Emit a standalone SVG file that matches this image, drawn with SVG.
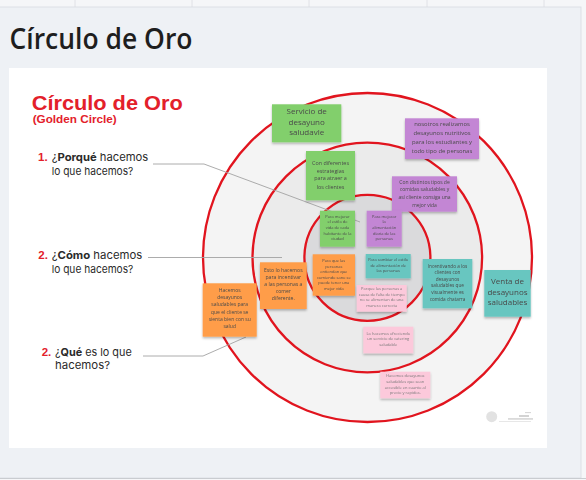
<svg xmlns="http://www.w3.org/2000/svg" width="586" height="480" viewBox="0 0 586 480">
<defs>
<filter id="sh" x="-20%" y="-20%" width="140%" height="150%">
<feDropShadow dx="0" dy="1.6" stdDeviation="1.2" flood-color="#000" flood-opacity="0.28"/>
</filter>
</defs>
<style>
.ring{stroke:#e1141e;stroke-width:2.3}
.conn{fill:none;stroke:#a3a3a3;stroke-width:0.9}
.note{filter:url(#sh)}
.nt{font-family:"Open Sans","Liberation Sans",sans-serif;text-anchor:middle;fill:#4a4a4a}
.pk{fill:#777}
.q{font-family:"Inter","Liberation Sans",sans-serif;font-size:11px;fill:#2a2a2a}
.num{font-family:"Liberation Sans",sans-serif;font-weight:bold;fill:#e3202a;font-size:11.5px}
.g{fill:#82cf6c}.p{fill:#c386d4}.o{fill:#ff9d48}.t{fill:#67c6c0}.k{fill:#fcc9db}
</style>
<rect x="0" y="0" width="586" height="480" fill="#f5f6f8"/>
<g stroke="#dadde1" stroke-width="0.8"><line x1="75" y1="0" x2="75" y2="7"/><line x1="192" y1="0" x2="192" y2="7"/><line x1="309" y1="0" x2="309" y2="7"/><line x1="427" y1="0" x2="427" y2="7"/><line x1="544" y1="0" x2="544" y2="7"/></g>
<rect x="-1" y="7" width="582" height="471" fill="#eef1f5" stroke="#d8dbe0" stroke-width="0.8"/>
<line x1="0" y1="478.5" x2="586" y2="478.5" stroke="#c9ccd0" stroke-width="1"/>
<text x="9.5" y="49" font-family="Open Sans,Liberation Sans,sans-serif" font-weight="600" font-size="28" fill="#1e1e1e" textLength="183" lengthAdjust="spacingAndGlyphs">Círculo de Oro</text>
<rect x="9" y="68" width="538" height="380" fill="#ffffff"/>

<g id="title">
<text x="31.7" y="109.5" font-family="Liberation Sans,sans-serif" font-weight="bold" font-size="20" fill="#e3202a" textLength="151" lengthAdjust="spacingAndGlyphs">Círculo de Oro</text>
<text x="32.7" y="122.8" font-family="Liberation Sans,sans-serif" font-weight="bold" font-size="10" fill="#e3202a" textLength="84" lengthAdjust="spacingAndGlyphs">(Golden Circle)</text>
</g>

<g id="q1">
<text class="num" x="38" y="161">1.</text>
<text class="q" x="51.7" y="161" textLength="96.6" lengthAdjust="spacingAndGlyphs">¿<tspan font-weight="bold">Porqué</tspan> hacemos</text>
<text class="q" x="51.7" y="174.5" textLength="81.6" lengthAdjust="spacingAndGlyphs">lo que hacemos?</text>
</g>
<g id="q2">
<text class="num" x="38.3" y="259.3">2.</text>
<text class="q" x="51.7" y="259.3" textLength="90.6" lengthAdjust="spacingAndGlyphs">¿<tspan font-weight="bold">Cómo</tspan> hacemos</text>
<text class="q" x="51.7" y="272.5" textLength="81.6" lengthAdjust="spacingAndGlyphs">lo que hacemos?</text>
</g>
<g id="q3">
<text class="num" x="41.7" y="356">2.</text>
<text class="q" x="55" y="356" textLength="76.7" lengthAdjust="spacingAndGlyphs">¿<tspan font-weight="bold">Qué</tspan> es lo que</text>
<text class="q" x="55" y="368.5" textLength="55" lengthAdjust="spacingAndGlyphs">hacemos?</text>
</g>

<g id="circles">
<circle class="ring" cx="367.5" cy="257.5" r="164.5" fill="#f4f4f4"/>
<circle class="ring" cx="367.3" cy="257.5" r="114.8" fill="#ebebeb"/>
<circle class="ring" cx="367.4" cy="257.8" r="63" fill="#dadadc"/>
</g>

<g id="connectors">
<polyline class="conn" points="153,164 204,164 360,222"/>
<polyline class="conn" points="148,257.5 282,257.5"/>
<polyline class="conn" points="143,356 203,356 246,337"/>
</g>

<g id="n1" class="note"><rect class="g" x="272" y="104.3" width="69.3" height="38"/>
<text class="nt" font-size="8" x="306.7"><tspan x="306.7" y="114">Servicio de</tspan><tspan x="306.7" y="124.7">desayuno</tspan><tspan x="306.7" y="135">saludavle</tspan></text></g>

<g id="n2" class="note"><rect class="p" x="405" y="118.3" width="74" height="40.7"/>
<text class="nt" font-size="5.9" x="442"><tspan x="442" y="126">nosotros realizamos</tspan><tspan x="442" y="135.3">desayunos nutritivos</tspan><tspan x="442" y="143.7">para los estudiantes y</tspan><tspan x="442" y="152.7">todo tipo de personas</tspan></text></g>

<g id="n3" class="note"><rect class="g" x="306" y="151" width="49" height="49.3"/>
<text class="nt" font-size="5.4" x="330.5"><tspan x="330.5" y="165.2">Con diferentes</tspan><tspan x="330.5" y="172.6">estrategias</tspan><tspan x="330.5" y="180.2">para atraer a</tspan><tspan x="330.5" y="188.6">los clientes</tspan></text></g>

<g id="n4" class="note"><rect class="p" x="392" y="176.3" width="65" height="35.4"/>
<text class="nt" font-size="5" x="424.5"><tspan x="424.5" y="183.5">Con distintos tipos de</tspan><tspan x="424.5" y="191.1">comidas saludables y</tspan><tspan x="424.5" y="198.8">así  cliente consiga una</tspan><tspan x="424.5" y="206.5">mejor vida</tspan></text></g>

<g id="n5" class="note"><rect class="g" x="320" y="210.7" width="35" height="36"/>
<text class="nt" font-size="4" x="337.5"><tspan x="337.5" y="217.7">Para mejorar</tspan><tspan x="337.5" y="223.4">el estilo de</tspan><tspan x="337.5" y="229.1">vida de cada</tspan><tspan x="337.5" y="234.7">habitante de la</tspan><tspan x="337.5" y="240.4">ciudad</tspan></text></g>

<g id="n6" class="note"><rect class="p" x="366.7" y="210.7" width="35" height="36"/>
<text class="nt" font-size="4" x="384.2"><tspan x="384.2" y="217.7">Para mejorar</tspan><tspan x="384.2" y="223.4">la</tspan><tspan x="384.2" y="229.1">alimentación</tspan><tspan x="384.2" y="234.7">diaria de las</tspan><tspan x="384.2" y="240.4">personas</tspan></text></g>

<g id="n7" class="note"><rect class="o" x="312.7" y="254.3" width="42.3" height="41.4"/>
<text class="nt" font-size="4" x="333.8"><tspan x="333.8" y="262">Para que las</tspan><tspan x="333.8" y="267.5">personas</tspan><tspan x="333.8" y="273">entiendan que</tspan><tspan x="333.8" y="278.5">comiendo sano se</tspan><tspan x="333.8" y="284">puede tener una</tspan><tspan x="333.8" y="289.5">mejor vida</tspan></text></g>

<g id="n8" class="note"><rect class="t" x="365.7" y="254" width="45" height="24.3"/>
<text class="nt" font-size="4" x="388.2"><tspan x="388.2" y="261.1">Para cambiar el estilo</tspan><tspan x="388.2" y="267.1">de alimentación de</tspan><tspan x="388.2" y="272.4">las personas</tspan></text></g>

<g id="n9" class="note"><rect class="k" x="356.7" y="285" width="50" height="26.7"/>
<text class="nt pk" font-size="4" x="381.7"><tspan x="381.7" y="290.4">Porque las personas a</tspan><tspan x="381.7" y="296.1">causa de falta de tiempo</tspan><tspan x="381.7" y="301.4">no se alimentan de una</tspan><tspan x="381.7" y="306.7">manera correcta</tspan></text></g>

<g id="n10" class="note"><rect class="o" x="260" y="262.3" width="46.7" height="46.7"/>
<text class="nt" font-size="5.1" x="283.3"><tspan x="283.3" y="271.8">Esto lo hacemos</tspan><tspan x="283.3" y="278.8">para incentivar</tspan><tspan x="283.3" y="285.8">a las personas a</tspan><tspan x="283.3" y="292.8">comer</tspan><tspan x="283.3" y="299.8">diferente.</tspan></text></g>

<g id="n11" class="note"><rect class="o" x="202.7" y="283.3" width="54" height="53.4"/>
<text class="nt" font-size="5" x="229.7"><tspan x="229.7" y="291.7">Hacemos</tspan><tspan x="229.7" y="299">desayunos</tspan><tspan x="229.7" y="306.4">saludables para</tspan><tspan x="229.7" y="313.7">que el cliente se</tspan><tspan x="229.7" y="321">sienta bien con su</tspan><tspan x="229.7" y="327.7">salud</tspan></text></g>

<g id="n12" class="note"><rect class="t" x="422.7" y="259" width="49.6" height="49.3"/>
<text class="nt" font-size="4.7" x="447.5"><tspan x="447.5" y="267.7">Incentivando a los</tspan><tspan x="447.5" y="274">clientes con</tspan><tspan x="447.5" y="280.7">desayunos</tspan><tspan x="447.5" y="287.4">saludables que</tspan><tspan x="447.5" y="294">visualmente es</tspan><tspan x="447.5" y="300.7">comida chatarra</tspan></text></g>

<g id="n13" class="note"><rect class="t" x="484.3" y="270" width="46.4" height="46.7"/>
<text class="nt" font-size="8" x="507.5"><tspan x="507.5" y="284">Venta de</tspan><tspan x="507.5" y="294.7">desayunos</tspan><tspan x="507.5" y="304.7">saludables</tspan></text></g>

<g id="n14" class="note"><rect class="k" x="363.3" y="326.7" width="50" height="26.6"/>
<text class="nt pk" font-size="4" x="388.3"><tspan x="388.3" y="334.7">Lo hacemos ofreciendo</tspan><tspan x="388.3" y="340.4">un servicio de catering</tspan><tspan x="388.3" y="346.1">saludable</tspan></text></g>

<g id="n15" class="note"><rect class="k" x="380.3" y="371.7" width="50" height="26.6"/>
<text class="nt pk" font-size="4" x="405.3"><tspan x="405.3" y="377.1">Hacemos desayunos</tspan><tspan x="405.3" y="383.1">saludables que sean</tspan><tspan x="405.3" y="388.7">accesible en cuanto al</tspan><tspan x="405.3" y="394.1">precio y rapidos.</tspan></text></g>

<g id="footer">
<circle cx="491.7" cy="416.7" r="5.5" fill="#e2e2e2"/>
<rect x="525" y="412.3" width="6" height="0.8" fill="#c8c8c8"/>
<rect x="519" y="415.5" width="10" height="1" fill="#a8a8a8"/>
<rect x="508" y="418.5" width="25" height="0.9" fill="#b5b5b5"/>
<rect x="499" y="421" width="32" height="0.5" fill="#cfcfcf"/>
</g>
</svg>
